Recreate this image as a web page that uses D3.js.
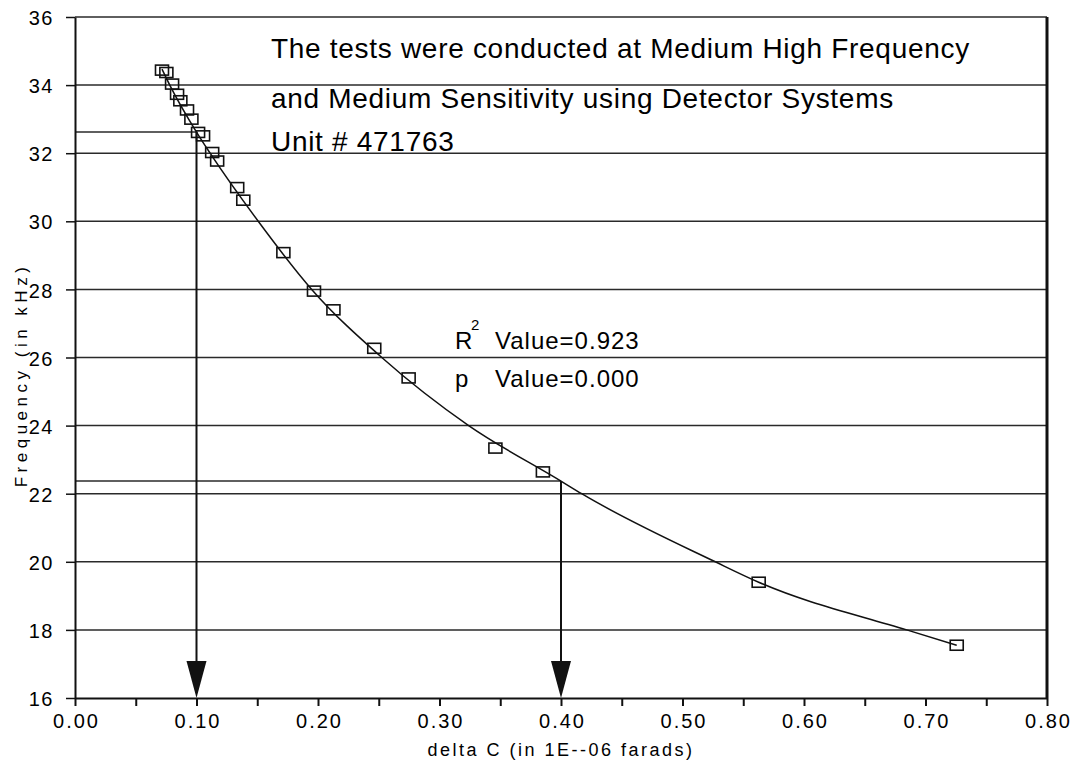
<!DOCTYPE html>
<html><head><meta charset="utf-8">
<script src="https://cdn.jsdelivr.net/npm/d3@7"></script>
<style>html,body{margin:0;padding:0;background:#fff;} svg{display:block;}</style>
</head><body><svg id="chart" width="1078" height="771"></svg>
<script>
// ---- data ----
const deltaC = [0.0716,0.0752,0.0799,0.0840,0.0867,0.0922,0.0958,0.1013,0.1054,0.1129,0.1170,0.1335,0.1385,0.1715,0.1967,0.2127,0.2463,0.2746,0.3460,0.3851,0.5627,0.7257];
const frequency = [34.44,34.37,34.03,33.73,33.54,33.27,33.00,32.61,32.51,32.02,31.77,30.99,30.62,29.08,27.95,27.40,26.27,25.40,23.34,22.64,19.40,17.55];
const fitC = [0.0716,0.0780,0.1000,0.1112,0.1508,0.1948,0.2525,0.3240,0.4000,0.4170,0.5270,0.5627,0.6845,0.7257];
const fitF = [34.47,34.00,32.62,32.00,30.00,28.00,26.00,24.00,22.37,22.00,20.00,19.40,18.00,17.55];
const xTickValues = [0,0.05,0.1,0.15,0.2,0.25,0.3,0.35,0.4,0.45,0.5,0.55,0.6,0.65,0.7,0.75,0.8];
const xTickLabels = ["0.00","","0.10","","0.20","","0.30","","0.40","","0.50","","0.60","","0.70","","0.80"];
const yTickValues = [16,18,20,22,24,26,28,30,32,34,36];
const yTickLabels = ["16","18","20","22","24","26","28","30","32","34","36"];
const guideC = [0.10, 0.40];
const guideF = [32.62, 22.37];
const noteLines = ["The tests were conducted at Medium High Frequency","and Medium Sensitivity using Detector Systems","Unit # 471763"];
const statNames = ["R","p"];
const statSups = ["2",""];
const statTexts = ["Value=0.923","Value=0.000"];
const xTitle = "delta C (in 1E--06 farads)";
const yTitle = "Frequency (in kHz)";

// ---- layout ----
const svg = d3.select("#chart");
const x = d3.scaleLinear().domain([0,0.8]).range([75,1047]);
const y = d3.scaleLinear().domain([16,36]).range([698,17]);
const FONT = "'Liberation Sans', Arial, sans-serif";
const ink = "#111";

// gridlines
svg.append("g").selectAll("line").data(yTickValues.slice(1)).join("line")
  .attr("x1", x(0)).attr("x2", x(0.8))
  .attr("y1", d=>y(d)).attr("y2", d=>y(d))
  .attr("stroke", "#2a2a2a").attr("stroke-width", 1.5);

// guide horizontal lines
svg.append("g").selectAll("line").data(guideC).join("line")
  .attr("x1", x(0)).attr("x2", d=>x(d))
  .attr("y1", (d,i)=>y(guideF[i])).attr("y2", (d,i)=>y(guideF[i]))
  .attr("stroke", "#2a2a2a").attr("stroke-width", 1.5);

// guide vertical arrows
svg.append("g").selectAll("line").data(guideC).join("line")
  .attr("x1", d=>x(d)).attr("x2", d=>x(d))
  .attr("y1", (d,i)=>y(guideF[i])).attr("y2", y(16)-30)
  .attr("stroke", ink).attr("stroke-width", 2);
svg.append("g").selectAll("path").data(guideC).join("path")
  .attr("d", d=>{const cx=x(d), by=y(16); return `M${cx-10},${by-37}L${cx+10},${by-37}L${cx},${by}Z`;})
  .attr("fill", ink);

// x axis
const xAxis = svg.append("g").attr("transform", `translate(0,${y(16)})`)
  .call(d3.axisBottom(x).tickValues(xTickValues).tickSizeInner(8).tickSizeOuter(0).tickPadding(8)
    .tickFormat((d,i)=>xTickLabels[i]));
xAxis.select(".domain").attr("stroke", ink).attr("stroke-width", 2);
xAxis.selectAll(".tick line").attr("stroke", ink).attr("stroke-width", 2);
xAxis.selectAll(".tick text").attr("font-family", FONT).attr("font-size", 20)
  .attr("letter-spacing", "2px").attr("fill", "#000").attr("dx", 1);

// y axis
const yAxis = svg.append("g").attr("transform", `translate(${x(0)},0)`)
  .call(d3.axisLeft(y).tickValues(yTickValues).tickSizeInner(9).tickSizeOuter(0).tickPadding(12)
    .tickFormat((d,i)=>yTickLabels[i]));
yAxis.select(".domain").attr("stroke", ink).attr("stroke-width", 2);
yAxis.selectAll(".tick line").attr("stroke", ink).attr("stroke-width", 1.5);
yAxis.selectAll(".tick text").attr("font-family", FONT).attr("font-size", 20)
  .attr("letter-spacing", "1.5px").attr("fill", "#000").attr("dy", "0.38em");

// right border
svg.append("line").attr("x1", x(0.8)).attr("x2", x(0.8)).attr("y1", y(36)).attr("y2", y(16))
  .attr("stroke", ink).attr("stroke-width", 3);

// fit curve
const line = d3.line().x((d,i)=>x(fitC[i])).y((d,i)=>y(fitF[i])).curve(d3.curveMonotoneX);
svg.append("path").datum(fitC).attr("d", line).attr("fill", "none")
  .attr("stroke", ink).attr("stroke-width", 1.5);

// markers
svg.append("g").selectAll("rect").data(deltaC).join("rect")
  .attr("x", d=>x(d)-6.5).attr("y", (d,i)=>y(frequency[i])-5)
  .attr("width", 13).attr("height", 10)
  .attr("fill", "none").attr("stroke", ink).attr("stroke-width", 1.6);

// annotation text
svg.append("g").selectAll("text").data(noteLines).join("text")
  .attr("x", 271).attr("y", (d,i)=>[58,108,151][i])
  .attr("font-family", FONT).attr("font-size", 28).attr("letter-spacing", "0.7px")
  .attr("fill", "#000").text(d=>d);

const stats = svg.append("g");
statNames.forEach((n,i)=>{
  const by = [349,387][i];
  stats.append("text").attr("x", 455).attr("y", by).attr("font-family", FONT)
    .attr("font-size", 24).attr("fill", "#000").text(n);
  if (statSups[i]) stats.append("text").attr("x", 471).attr("y", by-19).attr("font-family", FONT)
    .attr("font-size", 15).attr("fill", "#000").text(statSups[i]);
  stats.append("text").attr("x", 495).attr("y", by).attr("font-family", FONT)
    .attr("font-size", 24).attr("letter-spacing", "1px").attr("fill", "#000").text(statTexts[i]);
});

// axis titles
svg.append("text").attr("x", (x(0)+x(0.8))/2).attr("y", 756).attr("text-anchor", "middle")
  .attr("font-family", FONT).attr("font-size", 18).attr("letter-spacing", "2.5px")
  .attr("fill", "#000").text(xTitle);
svg.append("text").attr("transform", "translate(27,375) rotate(-90)").attr("text-anchor", "middle")
  .attr("font-family", FONT).attr("font-size", 17).attr("letter-spacing", "4.5px")
  .attr("fill", "#000").text(yTitle);
</script></body></html>
